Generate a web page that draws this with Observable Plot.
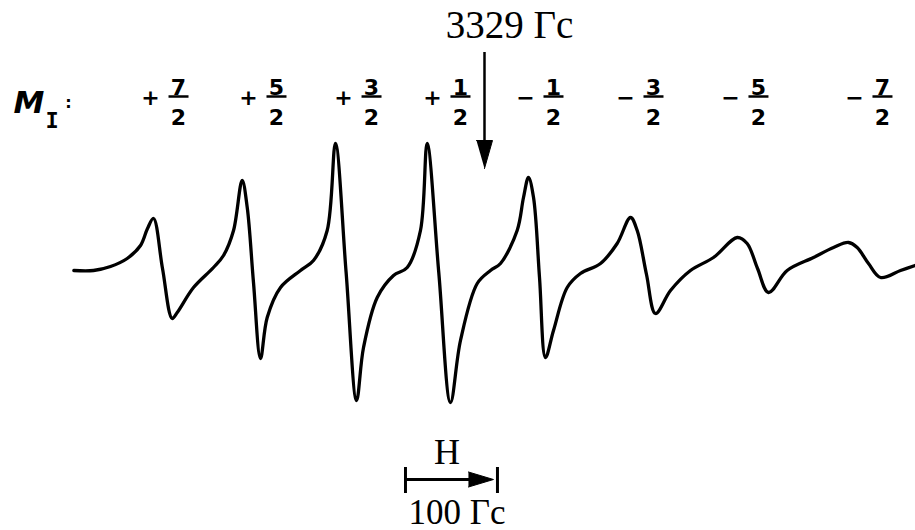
<!DOCTYPE html>
<html>
<head>
<meta charset="utf-8">
<script src="https://cdn.jsdelivr.net/npm/d3@7"></script>
<script src="https://cdn.jsdelivr.net/npm/@observablehq/plot@0.6"></script>
<style>
  html, body { margin: 0; padding: 0; background: #fff; }
  #chart svg { display: block; }
</style>
</head>
<body>
<div id="chart"></div>
<script>
// Magnetic field (Gauss) and derivative EPR signal (arbitrary units)
const field = [
  2882.6, 2904, 2922.5, 2940.6, 2955.1, 2962.7, 2969.2, 2979, 2989.5,
  2995, 3012.7, 3034.4, 3045.3, 3056.2, 3065.6, 3071.1, 3077.9, 3085.5, 3092.8,
  3107.3, 3129, 3143.1, 3158, 3167, 3178.5, 3189.9, 3197.5, 3212.4, 3230.1,
  3245, 3259.4, 3266.7, 3279.3, 3292, 3302.9, 3321.1, 3335.5, 3346.4, 3364.5,
  3371.4, 3376.8, 3382.3, 3388.8, 3395.3, 3404, 3418.9, 3433.3, 3455.1, 3473.2,
  3487.7, 3495, 3505.1, 3514.9, 3531.2, 3552.9, 3577.9, 3603.7, 3614.5, 3625.8,
  3637.7, 3658, 3686.6, 3708.4, 3724.7, 3734.1, 3746.4, 3759.5, 3781.2, 3797
];
const signal = [
  -2, -2, 2, 10, 23, 40, 50, 0, -50,
  -44, -19, 1, 13, 38, 88, 61, -14, -90, -49,
  -19, -2, 8, 38, 125, -3, -132, -79, -29, -7,
  1, 38, 125, -4, -134, -72, -15, -2, 5, 38,
  71, 91, 71, -9, -89, -62, -19, -5, 5, 25,
  51, 38, -6, -45, -22, -2, 11, 31, 25, 0,
  -24, -2, 11, 21, 26, 21, 5, -9, -2, 3
];

// M_I labels
const mISign = ["+", "+", "+", "+", "\u2212", "\u2212", "\u2212", "\u2212"];
const mINum = ["7", "5", "3", "1", "1", "3", "5", "7"];
const mIDen = ["2", "2", "2", "2", "2", "2", "2", "2"];
const mIField = [2996.4, 3102.9, 3206.2, 3302.9, 3404, 3512.7, 3626.8, 3761.6];

// Annotations
const centerField = 3329;
const centerLabel = "3329 \u0413\u0441";
const scaleBarFrom = 3243.1;
const scaleBarTo = 3343.1;
const scaleLabel = "100 \u0413\u0441";
const fieldLabel = "H";

const spectrum = field.map((x, i) => ({x, y: signal[i]}));
const labels = mIField.map((x, i) => ({x, sign: mISign[i], num: mINum[i], den: mIDen[i]}));

const gPerPx = (scaleBarTo - scaleBarFrom) / 92; // field units per pixel
const barHalf = 10 * gPerPx;

const serif = "Liberation Serif, Times New Roman, serif";
const sans = "DejaVu Sans, sans-serif";

const chart = Plot.plot({
  width: 915,
  height: 530,
  margin: 0,
  style: {background: "#fff", color: "#000"},
  x: {domain: [2802.9, 3797.5], axis: null},
  y: {domain: [-262, 268], axis: null},
  marks: [
    // spectrum
    Plot.line(spectrum, {x: "x", y: "y", curve: "catmull-rom", stroke: "#000", strokeWidth: 3.3, strokeLinejoin: "round", strokeLinecap: "round"}),

    // center arrow
    Plot.ruleX([centerField], {y1: 216, y2: 128, stroke: "#000", strokeWidth: 2.5}),
    Plot.line([
      {x: centerField - 8 * gPerPx, y: 128},
      {x: centerField + 8 * gPerPx, y: 128},
      {x: centerField, y: 100}
    ], {x: "x", y: "y", fill: "#000", stroke: "#000", strokeWidth: 1}),
    Plot.text([centerLabel], {x: centerField, y: 231, dx: 25, text: d => d, textAnchor: "middle", lineAnchor: "bottom", fontSize: 39, fontFamily: serif, fill: "#000"}),

    // M_I label
    Plot.text(["M"], {x: 2817, y: 156, text: d => d, textAnchor: "start", lineAnchor: "bottom", fontSize: 31, fontStyle: "italic", fontWeight: 600, fontFamily: sans, fill: "#000"}),
    Plot.text(["I"], {x: 2858.9, y: 141, text: d => d, textAnchor: "middle", lineAnchor: "bottom", fontSize: 22, fontWeight: "bold", fontFamily: "DejaVu Sans Mono, monospace", fill: "#000"}),
    Plot.text([":"], {x: 2876.8, y: 161, text: d => d, textAnchor: "middle", lineAnchor: "bottom", fontSize: 16, fontWeight: "bold", fontFamily: sans, fill: "#000"}),

    // fractions
    Plot.text(labels, {x: "x", y: 171, dx: -28, text: "sign", textAnchor: "middle", lineAnchor: "middle", fontSize: 22, fontWeight: "bold", fontFamily: sans, fill: "#000"}),
    Plot.text(labels, {x: "x", y: 174, text: "num", textAnchor: "middle", lineAnchor: "bottom", fontSize: 22, fontWeight: "bold", fontFamily: sans, fill: "#000"}),
    Plot.link(labels, {x1: d => d.x - barHalf, x2: d => d.x + barHalf, y1: 172, y2: 172, stroke: "#000", strokeWidth: 2.5}),
    Plot.text(labels, {x: "x", y: 144, text: "den", textAnchor: "middle", lineAnchor: "bottom", fontSize: 22, fontWeight: "bold", fontFamily: sans, fill: "#000"}),

    // scale bar
    Plot.ruleY([-211], {x1: scaleBarFrom, x2: scaleBarTo - 20 * gPerPx, stroke: "#000", strokeWidth: 3}),
    Plot.ruleX([scaleBarFrom, scaleBarTo], {y1: -199, y2: -225, stroke: "#000", strokeWidth: 3}),
    Plot.line([
      {x: scaleBarTo - 29 * gPerPx, y: -203.5},
      {x: scaleBarTo - 4 * gPerPx, y: -211},
      {x: scaleBarTo - 29 * gPerPx, y: -218.5}
    ], {x: "x", y: "y", fill: "#000", stroke: "#000", strokeWidth: 1}),
    Plot.text([fieldLabel], {x: scaleBarFrom + 41.5 * gPerPx, y: -195, text: d => d, textAnchor: "middle", lineAnchor: "bottom", fontSize: 36, fontFamily: serif, fill: "#000"}),
    Plot.text([scaleLabel], {x: scaleBarFrom + 51.5 * gPerPx, y: -255, text: d => d, textAnchor: "middle", lineAnchor: "bottom", fontSize: 35, fontFamily: serif, fill: "#000"})
  ]
});
document.getElementById("chart").appendChild(chart);
</script>
</body>
</html>
